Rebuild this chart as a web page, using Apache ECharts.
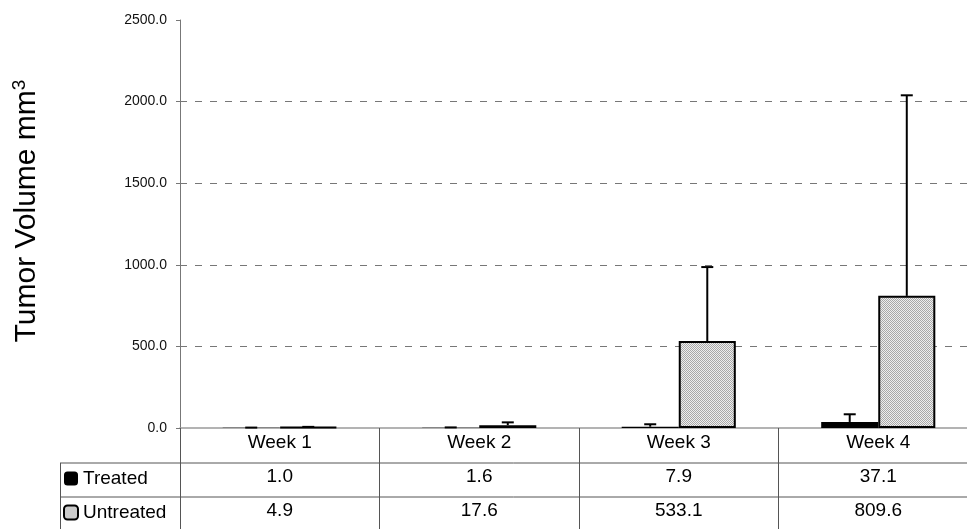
<!DOCTYPE html>
<html>
<head>
<meta charset="utf-8">
<script src="https://cdn.jsdelivr.net/npm/echarts@6/dist/echarts.min.js"></script>
<style>
html,body{margin:0;padding:0;background:#fff;}
#chart{width:967px;height:529px;}
</style>
</head>
<body>
<div id="chart"></div>
<script>
// ---- data ----
const categories = ['Week 1', 'Week 2', 'Week 3', 'Week 4'];
const seriesNames = ['Treated', 'Untreated'];
const treated = [1.0, 1.6, 7.9, 37.1];
const untreated = [4.9, 17.6, 533.1, 809.6];
const treatedErr = [1.5, 2, 15, 47];
const untreatedErr = [2, 17, 453, 1229];
const yTicks = [0, 500, 1000, 1500, 2000, 2500];

// ---- layout ----
const W = 967, H = 529;
const gridLeft = 180, gridTop = 20, gridBottom = 101, gridRight = -11;
const rowH = 34;
const tableLeft = 60;
const barFrac = 0.286;
const FONT = '"Liberation Sans", Arial, Helvetica, sans-serif';

// stipple pattern for Untreated
const pc = document.createElement('canvas');
pc.width = 2; pc.height = 2;
const pctx = pc.getContext('2d');
pctx.fillStyle = '#eeeeee'; pctx.fillRect(0, 0, 2, 2);
pctx.fillStyle = '#a8a8a8'; pctx.fillRect(0, 0, 1, 1); pctx.fillRect(1, 1, 1, 1);
const pattern = { image: pc, repeat: 'repeat' };

function errSeries(values, errs, side) {
  return {
    type: 'custom',
    silent: true,
    z: 5,
    data: values.map((v, i) => [i, v, errs[i]]),
    renderItem: function (params, api) {
      const i = api.value(0), v = api.value(1), e = api.value(2);
      const band = api.size([1, 0])[0];
      const base = api.coord([i, v]);
      const top = api.coord([i, v + e]);
      const x = base[0] + side * band * barFrac / 2;
      const cap = 6;
      return {
        type: 'group',
        children: [
          { type: 'line', shape: { x1: x, y1: base[1], x2: x, y2: top[1] }, style: { stroke: '#000', lineWidth: 2 } },
          { type: 'line', shape: { x1: x - cap, y1: top[1], x2: x + cap, y2: top[1] }, style: { stroke: '#000', lineWidth: 2 } }
        ]
      };
    }
  };
}

const chart = echarts.init(document.getElementById('chart'), null, { renderer: 'canvas' });
const axisBottomY = H - gridBottom;

const option = {
  backgroundColor: '#fff',
  animation: false,
  textStyle: { fontFamily: FONT },
  grid: { left: gridLeft, right: gridRight, top: gridTop, bottom: gridBottom, containLabel: false, outerBoundsMode: 'none' },
  legend: {
    orient: 'vertical',
    left: 63,
    top: 469,
    padding: 0,
    itemGap: 15,
    itemWidth: 14,
    itemHeight: 14,
    icon: 'roundRect',
    data: seriesNames,
    textStyle: { fontFamily: FONT, fontSize: 19, lineHeight: 16, color: '#000' }
  },
  xAxis: {
    type: 'category',
    data: categories,
    boundaryGap: true,
    axisLine: { show: true, lineStyle: { color: '#9a9a9a', width: 1.5 } },
    axisTick: { show: true, inside: false, length: gridBottom, interval: 0, alignWithLabel: false, lineStyle: { color: '#555', width: 1 } },
    axisLabel: {
      interval: 0,
      margin: -2,
      formatter: function (val, idx) {
        return '{h|' + val + '}\n{v|' + treated[idx].toFixed(1) + '}\n{v|' + untreated[idx].toFixed(1) + '}';
      },
      rich: {
        h: { fontFamily: FONT, fontSize: 19, lineHeight: rowH, color: '#000' },
        v: { fontFamily: FONT, fontSize: 19, lineHeight: rowH, color: '#000' }
      }
    },
    splitLine: { show: false }
  },
  yAxis: {
    type: 'value',
    min: yTicks[0],
    max: yTicks[yTicks.length - 1],
    interval: yTicks[1] - yTicks[0],
    name: '{a|Tumor Volume mm}{s|3}',
    nameLocation: 'middle',
    nameRotate: 90,
    nameGap: 137,
    nameTextStyle: {
      padding: [0, 0, 0, 26],
      rich: {
        a: { fontFamily: FONT, fontSize: 30, color: '#000', lineHeight: 33 },
        s: { fontFamily: FONT, fontSize: 19, color: '#000', verticalAlign: 'top', lineHeight: 33 }
      }
    },
    axisLine: { show: true, lineStyle: { color: '#777', width: 1 } },
    axisTick: { show: true, length: 4, lineStyle: { color: '#777' } },
    axisLabel: {
      margin: 13,
      fontFamily: FONT,
      fontSize: 14,
      color: '#111',
      formatter: v => v.toFixed(1)
    },
    splitLine: {
      show: true,
      lineStyle: {
        type: [7, 8],
        width: 1,
        color: yTicks.map((t, i) => (i === 0 || i === yTicks.length - 1) ? 'rgba(0,0,0,0)' : '#777')
      }
    }
  },
  series: [
    {
      name: seriesNames[0],
      type: 'bar',
      data: treated,
      barWidth: (barFrac * 100) + '%',
      barGap: '0%',
      itemStyle: { color: '#000', borderColor: '#000', borderWidth: 0 },
      z: 3
    },
    {
      name: seriesNames[1],
      type: 'bar',
      data: untreated,
      barWidth: (barFrac * 100) + '%',
      barGap: '0%',
      itemStyle: { color: pattern, borderColor: '#000', borderWidth: 2 },
      z: 3
    },
    errSeries(treated, treatedErr, -1),
    errSeries(untreated, untreatedErr, 1)
  ],
  graphic: [
    { type: 'line', shape: { x1: tableLeft, y1: axisBottomY + rowH + 1, x2: W, y2: axisBottomY + rowH + 1 }, style: { stroke: '#555', lineWidth: 1 } },
    { type: 'line', shape: { x1: tableLeft, y1: axisBottomY + 2 * rowH + 1, x2: W, y2: axisBottomY + 2 * rowH + 1 }, style: { stroke: '#555', lineWidth: 1 } },
    { type: 'line', shape: { x1: tableLeft + 0.5, y1: axisBottomY + rowH + 1, x2: tableLeft + 0.5, y2: H }, style: { stroke: '#555', lineWidth: 1 } }
  ]
};
chart.setOption(option);
</script>
</body>
</html>
